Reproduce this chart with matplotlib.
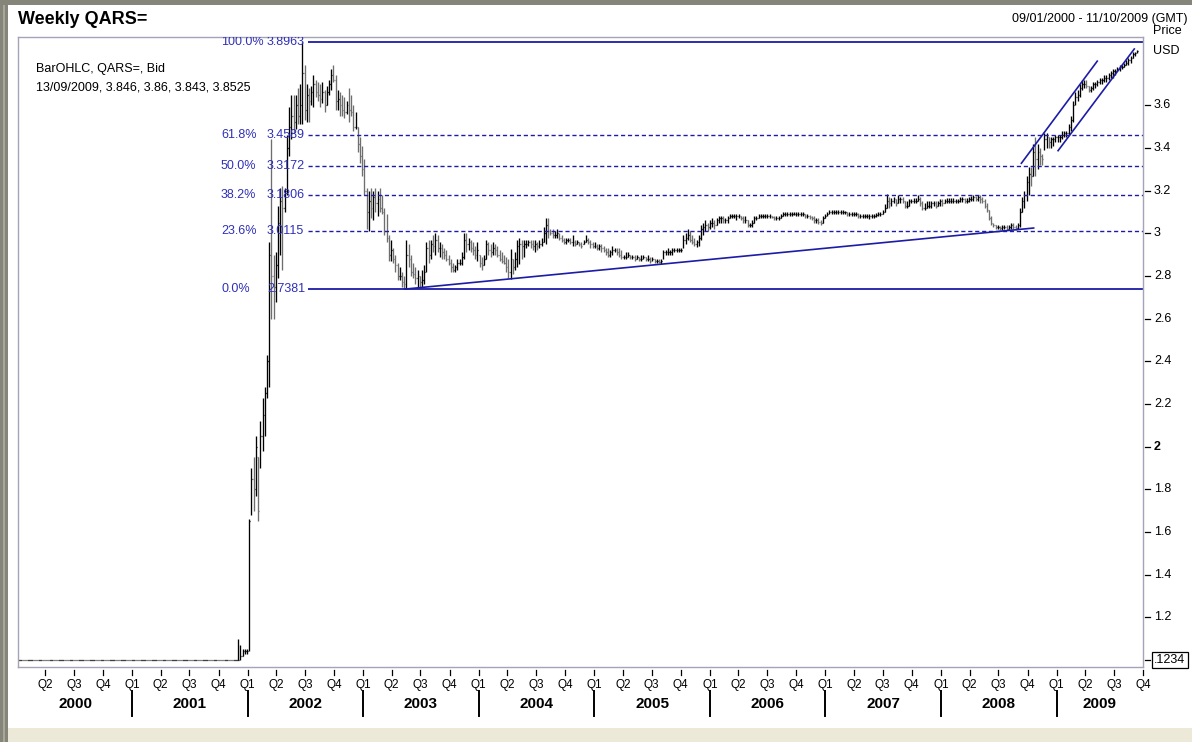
import matplotlib
matplotlib.use("Agg")
import matplotlib.pyplot as plt
import matplotlib.dates as mdates
from matplotlib.patches import Rectangle
from matplotlib.lines import Line2D
import matplotlib.transforms as mtransforms
import numpy as np
import pandas as pd

plt.rcParams['font.family'] = ['Liberation Sans', 'DejaVu Sans']

# ---------------- data (weekly bars, first bar 09/01/2000) ----------------
first_week = '2000-01-09'

low_2000_01 = [1.0, 1.0, 1.0, 1.0, 1.0, 1.0, 1.0, 1.0, 1.0, 1.0, 1.0, 1.0, 1.0, 1.0, 1.0, 1.0, 1.0, 1.0, 1.0, 1.0,
               1.0, 1.0, 1.0, 1.0, 1.0, 1.0, 1.0, 1.0, 1.0, 1.0, 1.0, 1.0, 1.0, 1.0, 1.0, 1.0, 1.0, 1.0, 1.0, 1.0,
               1.0, 1.0, 1.0, 1.0, 1.0, 1.0, 1.0, 1.0, 1.0, 1.0, 1.0, 1.0, 1.0, 1.0, 1.0, 1.0, 1.0, 1.0, 1.0, 1.0,
               1.0, 1.0, 1.0, 1.0, 1.0, 1.0, 1.0, 1.0, 1.0, 1.0, 1.0, 1.0, 1.0, 1.0, 1.0, 1.0, 1.0, 1.0, 1.0, 1.0,
               1.0, 1.0, 1.0, 1.0, 1.0, 1.0, 1.0, 1.0, 1.0, 1.0, 1.0, 1.0, 1.0, 1.0, 1.0, 1.0, 1.0, 1.0, 1.0,
               1.00, 1.00, 1.02, 1.03, 1.03]
high_2000_01 = [1.0, 1.0, 1.0, 1.0, 1.0, 1.0, 1.0, 1.0, 1.0, 1.0, 1.0, 1.0, 1.0, 1.0, 1.0, 1.0, 1.0, 1.0, 1.0, 1.0,
                1.0, 1.0, 1.0, 1.0, 1.0, 1.0, 1.0, 1.0, 1.0, 1.0, 1.0, 1.0, 1.0, 1.0, 1.0, 1.0, 1.0, 1.0, 1.0, 1.0,
                1.0, 1.0, 1.0, 1.0, 1.0, 1.0, 1.0, 1.0, 1.0, 1.0, 1.0, 1.0, 1.0, 1.0, 1.0, 1.0, 1.0, 1.0, 1.0, 1.0,
                1.0, 1.0, 1.0, 1.0, 1.0, 1.0, 1.0, 1.0, 1.0, 1.0, 1.0, 1.0, 1.0, 1.0, 1.0, 1.0, 1.0, 1.0, 1.0, 1.0,
                1.0, 1.0, 1.0, 1.0, 1.0, 1.0, 1.0, 1.0, 1.0, 1.0, 1.0, 1.0, 1.0, 1.0, 1.0, 1.0, 1.0, 1.0, 1.0,
                1.10, 1.07, 1.05, 1.05, 1.05]
close_2000_01 = [1.0, 1.0, 1.0, 1.0, 1.0, 1.0, 1.0, 1.0, 1.0, 1.0, 1.0, 1.0, 1.0, 1.0, 1.0, 1.0, 1.0, 1.0, 1.0, 1.0,
                 1.0, 1.0, 1.0, 1.0, 1.0, 1.0, 1.0, 1.0, 1.0, 1.0, 1.0, 1.0, 1.0, 1.0, 1.0, 1.0, 1.0, 1.0, 1.0, 1.0,
                 1.0, 1.0, 1.0, 1.0, 1.0, 1.0, 1.0, 1.0, 1.0, 1.0, 1.0, 1.0, 1.0, 1.0, 1.0, 1.0, 1.0, 1.0, 1.0, 1.0,
                 1.0, 1.0, 1.0, 1.0, 1.0, 1.0, 1.0, 1.0, 1.0, 1.0, 1.0, 1.0, 1.0, 1.0, 1.0, 1.0, 1.0, 1.0, 1.0, 1.0,
                 1.0, 1.0, 1.0, 1.0, 1.0, 1.0, 1.0, 1.0, 1.0, 1.0, 1.0, 1.0, 1.0, 1.0, 1.0, 1.0, 1.0, 1.0, 1.0,
                 1.00, 1.02, 1.04, 1.04, 1.04]

low_2002 = [1.04, 1.68, 1.70, 1.77, 1.65, 1.90, 1.98, 2.05, 2.23, 2.28, 2.60, 2.60, 2.68, 2.79, 2.90, 2.83, 3.10,
            3.18, 3.36, 3.44, 3.47, 3.49, 3.51, 3.51, 3.51, 3.53, 3.52, 3.52, 3.60, 3.59, 3.64, 3.62, 3.59, 3.61,
            3.57, 3.60, 3.65, 3.67, 3.71, 3.58, 3.58, 3.55, 3.55, 3.54, 3.56, 3.52, 3.55, 3.48, 3.49, 3.38, 3.33, 3.27]
high_2002 = [1.66, 1.90, 1.95, 2.05, 1.95, 2.12, 2.23, 2.28, 2.43, 2.96, 3.44, 2.90, 2.91, 3.13, 3.21, 3.22, 3.21,
             3.46, 3.59, 3.65, 3.65, 3.65, 3.68, 3.70, 3.8963, 3.79, 3.70, 3.68, 3.69, 3.74, 3.72, 3.71, 3.70, 3.71,
             3.67, 3.69, 3.72, 3.77, 3.79, 3.74, 3.67, 3.66, 3.65, 3.64, 3.62, 3.68, 3.65, 3.60, 3.57, 3.50, 3.45, 3.41]
close_2002 = [1.65, 1.85, 1.80, 2.00, 1.70, 2.05, 2.15, 2.25, 2.40, 2.90, 2.80, 2.75, 2.85, 3.05, 3.15, 3.12, 3.20,
              3.40, 3.50, 3.55, 3.52, 3.60, 3.55, 3.60, 3.75, 3.58, 3.65, 3.62, 3.66, 3.70, 3.66, 3.65, 3.63, 3.66,
              3.60, 3.66, 3.70, 3.74, 3.72, 3.62, 3.63, 3.60, 3.58, 3.57, 3.60, 3.58, 3.57, 3.50, 3.52, 3.42, 3.36, 3.30]

low_2003 = [3.18, 3.02, 3.01, 3.07, 3.06, 3.10, 3.08, 3.10, 3.09, 2.99, 2.96, 2.87, 2.87, 2.86, 2.82, 2.78, 2.78,
            2.75, 2.7381, 2.74, 2.84, 2.80, 2.79, 2.76, 2.75, 2.745, 2.75, 2.76, 2.82, 2.86, 2.88, 2.91, 2.90, 2.91,
            2.89, 2.88, 2.88, 2.87, 2.85, 2.82, 2.82, 2.82, 2.83, 2.85, 2.85, 2.88, 2.91, 2.92, 2.91, 2.90, 2.88, 2.87]
high_2003 = [3.35, 3.21, 3.20, 3.21, 3.20, 3.21, 3.20, 3.21, 3.18, 3.12, 3.09, 2.99, 2.97, 2.93, 2.90, 2.86, 2.84,
             2.82, 2.80, 2.97, 2.95, 2.90, 2.86, 2.84, 2.83, 2.80, 2.83, 2.85, 2.96, 2.97, 2.97, 2.99, 3.00, 2.99,
             2.96, 2.95, 2.93, 2.92, 2.90, 2.88, 2.86, 2.85, 2.88, 2.88, 2.91, 3.00, 3.00, 2.98, 2.97, 2.96, 2.94, 2.96]
close_2003 = [3.20, 3.10, 3.15, 3.12, 3.17, 3.14, 3.16, 3.12, 3.10, 3.01, 2.98, 2.90, 2.92, 2.88, 2.85, 2.80, 2.80,
              2.77, 2.76, 2.90, 2.88, 2.82, 2.81, 2.79, 2.80, 2.77, 2.78, 2.82, 2.93, 2.90, 2.95, 2.94, 2.97, 2.93,
              2.93, 2.91, 2.90, 2.88, 2.86, 2.84, 2.83, 2.84, 2.86, 2.86, 2.89, 2.97, 2.95, 2.96, 2.93, 2.92, 2.90, 2.92]

low_2004 = [2.84, 2.83, 2.85, 2.88, 2.90, 2.89, 2.90, 2.90, 2.89, 2.87, 2.86, 2.855, 2.82, 2.79, 2.785, 2.81, 2.83,
            2.84, 2.855, 2.88, 2.89, 2.93, 2.94, 2.93, 2.92, 2.91, 2.92, 2.93, 2.94, 2.96, 2.95, 2.98, 2.99, 2.98,
            2.98, 2.98, 2.97, 2.96, 2.95, 2.95, 2.96, 2.95, 2.94, 2.94, 2.95, 2.94, 2.93, 2.95, 2.96, 2.95, 2.93, 2.93]
high_2004 = [2.90, 2.89, 2.90, 2.97, 2.96, 2.95, 2.96, 2.95, 2.94, 2.92, 2.91, 2.90, 2.89, 2.88, 2.925, 2.88, 2.91,
             2.97, 2.98, 2.97, 2.97, 2.97, 2.97, 2.97, 2.97, 2.97, 2.96, 2.97, 2.98, 3.03, 3.07, 3.07, 3.02, 3.02,
             3.01, 3.02, 3.00, 2.99, 2.98, 2.98, 2.98, 2.98, 2.99, 2.97, 2.97, 2.96, 2.96, 2.97, 2.99, 2.98, 2.97, 2.96]
close_2004 = [2.86, 2.85, 2.88, 2.95, 2.92, 2.91, 2.93, 2.92, 2.90, 2.88, 2.87, 2.86, 2.84, 2.82, 2.88, 2.84, 2.88,
              2.94, 2.95, 2.94, 2.95, 2.95, 2.96, 2.95, 2.94, 2.95, 2.94, 2.95, 2.96, 3.00, 3.04, 3.01, 3.00, 2.99,
              2.99, 3.00, 2.98, 2.97, 2.96, 2.97, 2.97, 2.96, 2.96, 2.95, 2.96, 2.95, 2.94, 2.96, 2.97, 2.96, 2.95, 2.94]

low_2005 = [2.93, 2.92, 2.92, 2.91, 2.91, 2.90, 2.89, 2.89, 2.90, 2.91, 2.90, 2.89, 2.88, 2.88, 2.88, 2.89, 2.88,
            2.88, 2.87, 2.88, 2.87, 2.87, 2.88, 2.87, 2.87, 2.86, 2.87, 2.86, 2.86, 2.86, 2.855, 2.88, 2.90, 2.90,
            2.90, 2.90, 2.91, 2.91, 2.91, 2.91, 2.93, 2.95, 2.97, 2.96, 2.95, 2.94, 2.935, 2.94, 2.97, 2.99, 3.01, 3.01]
high_2005 = [2.96, 2.95, 2.95, 2.95, 2.94, 2.93, 2.93, 2.92, 2.94, 2.93, 2.93, 2.93, 2.92, 2.90, 2.91, 2.91, 2.90,
             2.90, 2.90, 2.90, 2.89, 2.90, 2.90, 2.89, 2.90, 2.89, 2.89, 2.88, 2.88, 2.88, 2.88, 2.92, 2.92, 2.93,
             2.92, 2.93, 2.93, 2.93, 2.93, 2.93, 2.99, 3.00, 3.02, 3.01, 2.99, 2.98, 2.97, 2.99, 3.04, 3.05, 3.06, 3.05]
close_2005 = [2.94, 2.93, 2.94, 2.93, 2.92, 2.91, 2.90, 2.91, 2.92, 2.92, 2.91, 2.90, 2.89, 2.89, 2.89, 2.90, 2.89,
              2.89, 2.88, 2.89, 2.88, 2.88, 2.89, 2.88, 2.88, 2.87, 2.88, 2.87, 2.87, 2.865, 2.87, 2.91, 2.91, 2.91,
              2.91, 2.92, 2.92, 2.92, 2.92, 2.92, 2.97, 2.98, 2.99, 2.97, 2.96, 2.95, 2.96, 2.98, 3.02, 3.03, 3.04, 3.03]

low_2006 = [3.02, 3.03, 3.02, 3.04, 3.05, 3.05, 3.05, 3.05, 3.05, 3.07, 3.07, 3.07, 3.06, 3.07, 3.06, 3.05, 3.05,
            3.03, 3.03, 3.03, 3.05, 3.06, 3.07, 3.07, 3.07, 3.07, 3.07, 3.07, 3.07, 3.06, 3.06, 3.06, 3.07, 3.08,
            3.08, 3.08, 3.08, 3.08, 3.085, 3.08, 3.08, 3.08, 3.08, 3.07, 3.07, 3.065, 3.06, 3.05, 3.05, 3.045, 3.04, 3.05]
high_2006 = [3.06, 3.07, 3.06, 3.07, 3.08, 3.08, 3.08, 3.07, 3.08, 3.09, 3.09, 3.09, 3.09, 3.09, 3.08, 3.08, 3.08,
             3.06, 3.05, 3.06, 3.08, 3.08, 3.09, 3.09, 3.09, 3.09, 3.09, 3.09, 3.08, 3.08, 3.08, 3.08, 3.09, 3.10,
             3.10, 3.10, 3.10, 3.10, 3.10, 3.10, 3.10, 3.10, 3.10, 3.09, 3.09, 3.085, 3.08, 3.08, 3.07, 3.07, 3.06, 3.08]
close_2006 = [3.05, 3.05, 3.04, 3.06, 3.07, 3.07, 3.06, 3.06, 3.07, 3.08, 3.08, 3.08, 3.08, 3.08, 3.07, 3.06, 3.06,
              3.04, 3.04, 3.05, 3.07, 3.07, 3.08, 3.08, 3.08, 3.08, 3.08, 3.08, 3.075, 3.07, 3.07, 3.07, 3.08, 3.09,
              3.09, 3.09, 3.09, 3.09, 3.09, 3.09, 3.09, 3.09, 3.09, 3.08, 3.08, 3.075, 3.07, 3.06, 3.06, 3.055, 3.05, 3.07]

low_2007 = [3.07, 3.08, 3.09, 3.09, 3.09, 3.09, 3.09, 3.09, 3.09, 3.09, 3.08, 3.08, 3.08, 3.08, 3.08, 3.07, 3.07,
            3.07, 3.07, 3.07, 3.065, 3.07, 3.07, 3.075, 3.08, 3.08, 3.09, 3.10, 3.12, 3.12, 3.13, 3.14, 3.13, 3.14,
            3.14, 3.14, 3.12, 3.12, 3.13, 3.14, 3.14, 3.14, 3.15, 3.13, 3.11, 3.11, 3.12, 3.12, 3.12, 3.13, 3.12, 3.13]
high_2007 = [3.09, 3.10, 3.11, 3.11, 3.11, 3.11, 3.11, 3.11, 3.11, 3.105, 3.10, 3.10, 3.10, 3.10, 3.10, 3.095, 3.09,
             3.09, 3.09, 3.09, 3.09, 3.09, 3.09, 3.095, 3.10, 3.10, 3.11, 3.135, 3.185, 3.17, 3.165, 3.17, 3.16, 3.18,
             3.17, 3.17, 3.15, 3.15, 3.16, 3.16, 3.165, 3.165, 3.18, 3.17, 3.15, 3.14, 3.15, 3.15, 3.15, 3.15, 3.15, 3.15]
close_2007 = [3.08, 3.09, 3.10, 3.10, 3.10, 3.10, 3.10, 3.10, 3.10, 3.10, 3.09, 3.09, 3.09, 3.09, 3.09, 3.08, 3.08,
              3.08, 3.08, 3.08, 3.08, 3.08, 3.08, 3.085, 3.09, 3.09, 3.10, 3.12, 3.15, 3.14, 3.15, 3.16, 3.14, 3.16,
              3.16, 3.15, 3.13, 3.13, 3.15, 3.15, 3.15, 3.15, 3.16, 3.14, 3.12, 3.12, 3.13, 3.13, 3.14, 3.14, 3.13, 3.14]

low_2008 = [3.13, 3.13, 3.14, 3.14, 3.14, 3.14, 3.14, 3.14, 3.14, 3.145, 3.145, 3.14, 3.14, 3.145, 3.15, 3.15, 3.15,
            3.15, 3.14, 3.14, 3.12, 3.10, 3.06, 3.04, 3.03, 3.02, 3.02, 3.015, 3.015, 3.02, 3.015, 3.02, 3.02, 3.02,
            3.015, 3.02, 3.03, 3.10, 3.12, 3.15, 3.18, 3.22, 3.27, 3.27, 3.30, 3.32, 3.32, 3.39, 3.40, 3.40, 3.40, 3.41]
high_2008 = [3.16, 3.16, 3.16, 3.165, 3.165, 3.165, 3.165, 3.16, 3.16, 3.17, 3.17, 3.165, 3.165, 3.17, 3.175, 3.18,
             3.175, 3.18, 3.18, 3.17, 3.16, 3.14, 3.11, 3.08, 3.05, 3.04, 3.04, 3.035, 3.04, 3.04, 3.04, 3.04, 3.05,
             3.05, 3.04, 3.05, 3.12, 3.17, 3.20, 3.27, 3.31, 3.31, 3.42, 3.45, 3.42, 3.40, 3.37, 3.47, 3.47, 3.45, 3.45, 3.45]
close_2008 = [3.15, 3.14, 3.15, 3.15, 3.15, 3.15, 3.15, 3.15, 3.15, 3.16, 3.16, 3.15, 3.15, 3.16, 3.16, 3.17, 3.16,
              3.17, 3.16, 3.15, 3.13, 3.11, 3.07, 3.05, 3.04, 3.03, 3.03, 3.025, 3.03, 3.03, 3.02, 3.03, 3.04, 3.03,
              3.025, 3.04, 3.10, 3.15, 3.18, 3.24, 3.28, 3.27, 3.38, 3.35, 3.38, 3.36, 3.35, 3.44, 3.45, 3.43, 3.44, 3.44]

low_2009 = [3.43, 3.43, 3.43, 3.44, 3.45, 3.45, 3.46, 3.48, 3.52, 3.60, 3.62, 3.64, 3.67, 3.68, 3.68, 3.66, 3.66,
            3.67, 3.68, 3.69, 3.70, 3.70, 3.71, 3.71, 3.72, 3.73, 3.73, 3.74, 3.76, 3.76, 3.77, 3.78, 3.79, 3.79,
            3.80, 3.82, 3.83, 3.843]
high_2009 = [3.46, 3.46, 3.46, 3.48, 3.48, 3.48, 3.51, 3.55, 3.62, 3.66, 3.67, 3.70, 3.72, 3.72, 3.72, 3.69, 3.69,
             3.71, 3.71, 3.72, 3.73, 3.73, 3.74, 3.74, 3.75, 3.76, 3.77, 3.77, 3.78, 3.79, 3.79, 3.80, 3.81, 3.82,
             3.83, 3.85, 3.85, 3.86]
close_2009 = [3.45, 3.45, 3.45, 3.46, 3.47, 3.47, 3.50, 3.53, 3.60, 3.64, 3.65, 3.68, 3.70, 3.70, 3.69, 3.67, 3.68,
              3.70, 3.70, 3.71, 3.72, 3.72, 3.73, 3.73, 3.74, 3.75, 3.76, 3.76, 3.77, 3.78, 3.78, 3.79, 3.80, 3.81,
              3.82, 3.84, 3.846, 3.8525]

# Fibonacci retracement levels
fib_pct = ['100.0%', '61.8%', '50.0%', '38.2%', '23.6%', '0.0%']
fib_val = [3.8963, 3.4589, 3.3172, 3.1806, 3.0115, 2.7381]
fib_start = '2002-07-10'

# drawn trend lines: (date, price) end points
support_line = [('2003-05-11', 2.7381), ('2008-10-23', 3.025)]
channel_upper = [('2008-09-10', 3.325), ('2009-05-11', 3.81)]
channel_lower = [('2009-01-04', 3.384), ('2009-09-05', 3.867)]

price_ticks = [1.2, 1.4, 1.6, 1.8, 2.0, 2.2, 2.4, 2.6, 2.8, 3.0, 3.2, 3.4, 3.6]
price_tick_labels = ['1.2', '1.4', '1.6', '1.8', '2', '2.2', '2.4', '2.6', '2.8', '3', '3.2', '3.4', '3.6']
years = [2000, 2001, 2002, 2003, 2004, 2005, 2006, 2007, 2008, 2009]

# ---------------- assemble ----------------
lows = np.array(low_2000_01 + low_2002 + low_2003 + low_2004 + low_2005 + low_2006 + low_2007 + low_2008 + low_2009)
highs = np.array(high_2000_01 + high_2002 + high_2003 + high_2004 + high_2005 + high_2006 + high_2007 + high_2008 + high_2009)
closes = np.array(close_2000_01 + close_2002 + close_2003 + close_2004 + close_2005 + close_2006 + close_2007 + close_2008 + close_2009)
n = len(closes)
dates = pd.date_range(first_week, periods=n, freq='7D')
x = mdates.date2num(dates.to_pydatetime())
opens = np.concatenate([[closes[0]], closes[:-1]])
opens = np.clip(opens, lows, highs)

W, H = 1192, 742
fig = plt.figure(figsize=(W / 100, H / 100), dpi=100)
fig.patch.set_facecolor('white')

def fx(px):
    return px / W

def fy(py):
    return 1 - py / H

# window frame
fig.add_artist(Rectangle((0, fy(742)), 1, (742 - 728) / H, transform=fig.transFigure, fc='#ECE9D8', ec='none'))
fig.add_artist(Rectangle((0, fy(5)), 1, 5 / H, transform=fig.transFigure, fc='#85857a', ec='none'))
fig.add_artist(Rectangle((0, 0), fx(8), 1, transform=fig.transFigure, fc='#85857a', ec='none'))
fig.add_artist(Rectangle((fx(3), 0), fx(2), fy(5), transform=fig.transFigure, fc='#a8a89a', ec='none'))

L, R, T, B = 18, 1143, 37, 667
ax = fig.add_axes([fx(L), fy(B), fx(R - L), (B - T) / H])
ax.set_facecolor('white')
x0 = mdates.date2num(pd.Timestamp('2000-01-06').to_pydatetime())
x1 = mdates.date2num(pd.Timestamp('2009-10-01').to_pydatetime())
ax.set_xlim(x0, x1)
ax.set_ylim(0.967, 3.92)
for s in ax.spines.values():
    s.set_color('#a4a4b8')
    s.set_linewidth(1.0)
ax.set_xticks([])
ax.set_yticks([])

# bars
up = closes >= opens
cols = np.where(up, '#000000', '#6e6e6e')
tick = 2.4
ax.vlines(x, lows, highs, colors=cols, lw=0.95)
ax.hlines(opens, x - tick, x, colors=cols, lw=0.9)
ax.hlines(closes, x, x + tick, colors=cols, lw=0.9)

# fibonacci lines
blue_line = '#1c1ca6'
blue_text = '#3030b8'
fs = mdates.date2num(pd.Timestamp(fib_start).to_pydatetime())
trans = mtransforms.blended_transform_factory(ax.transAxes, ax.transData)
for p, v in zip(fib_pct, fib_val):
    if p in ('100.0%', '0.0%'):
        ax.hlines(v, fs, x1, colors=blue_line, lw=1.3)
    else:
        ax.hlines(v, fs, x1, colors=blue_line, lw=1.0, linestyles=(0, (3, 2)))
    ax.text((221 - L) / (R - L), v, p, transform=trans, color=blue_text, fontsize=9,
            va='center', ha='left', clip_on=True)
    ax.text((267 - L) / (R - L), v, f'{v:.4f}', transform=trans, color=blue_text, fontsize=9,
            va='center', ha='left', clip_on=True)

for line in (support_line, channel_upper, channel_lower):
    xs = [mdates.date2num(pd.Timestamp(d).to_pydatetime()) for d, _ in line]
    ys = [p for _, p in line]
    ax.plot(xs, ys, color=blue_line, lw=1.2, solid_capstyle='butt')

# right price axis
ytr = mtransforms.blended_transform_factory(ax.transAxes, ax.transData)
for v, lab in zip(price_ticks, price_tick_labels):
    ax.add_line(Line2D([1.0015, 1.0062], [v, v], transform=ytr, color='black', lw=0.9, clip_on=False))
    ax.text(1.0098, v, lab, transform=ytr, fontsize=9, va='center', ha='left',
            fontweight='bold' if lab == '2' else 'normal', clip_on=False)
ax.add_line(Line2D([1.0015, 1.0062], [1.0, 1.0], transform=ytr, color='black', lw=0.9, clip_on=False))
ax.text(1.0098, 1.0, '.1234', transform=ytr, fontsize=9, va='center', ha='left', clip_on=False,
        bbox=dict(boxstyle='square,pad=0.18', fc='white', ec='black', lw=0.9))
fig.text(fx(1153), fy(31), 'Price', fontsize=9, va='center', ha='left')
fig.text(fx(1153), fy(51), 'USD', fontsize=9, va='center', ha='left')

# time axis
xtr = mtransforms.blended_transform_factory(ax.transData, fig.transFigure)
for yr in years:
    for q, m in enumerate([1, 4, 7, 10], start=1):
        d = mdates.date2num(pd.Timestamp(yr, m, 1).to_pydatetime())
        if d < x0 or d > x1 + 0.5:
            continue
        fig.add_artist(Line2D([d, d], [fy(670), fy(675)], transform=xtr, color='black', lw=0.9))
        fig.text(d, fy(685), f'Q{q}', transform=xtr, fontsize=8.5, ha='center', va='center')
    ys_ = mdates.date2num(pd.Timestamp(yr, 1, 1).to_pydatetime())
    ye_ = mdates.date2num(pd.Timestamp(yr + 1, 1, 1).to_pydatetime())
    a, b = max(ys_, x0), min(ye_, x1)
    fig.text((a + b) / 2, fy(704), str(yr), transform=xtr, fontsize=11, fontweight='bold',
             ha='center', va='center')
    if yr > 2000:
        fig.add_artist(Line2D([ys_, ys_], [fy(691), fy(716)], transform=xtr, color='black', lw=1.4))

# header texts
fig.text(fx(18), fy(19), 'Weekly QARS=', fontsize=13, fontweight='bold', va='center', ha='left')
fig.text(fx(1188), fy(19), '09/01/2000 - 11/10/2009 (GMT)', fontsize=9, va='center', ha='right')
fig.text(fx(36), fy(69), 'BarOHLC, QARS=, Bid', fontsize=9, va='center', ha='left')
fig.text(fx(36), fy(88), '13/09/2009, 3.846, 3.86, 3.843, 3.8525', fontsize=9, va='center', ha='left')

fig.savefig('out.png', dpi=100, facecolor='white')
